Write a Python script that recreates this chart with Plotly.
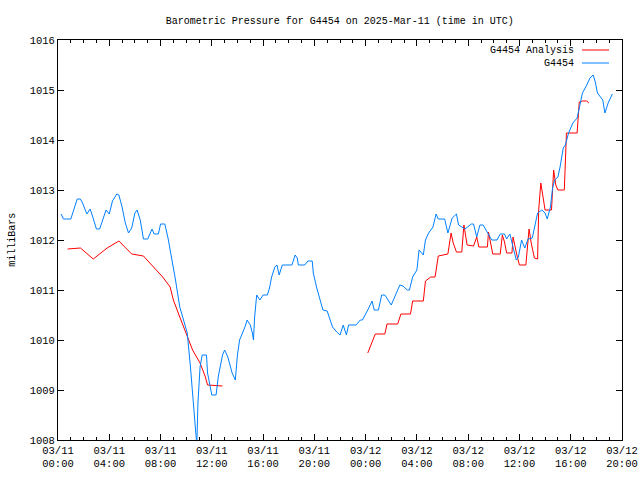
import datetime as dt
import plotly.graph_objects as go

BASE = dt.datetime(2025, 3, 11, 0, 0)

# G4454 observations: minutes after 2025-03-11 00:00 UTC, pressure in mbar
blue_min = [15, 25, 60, 90, 105, 115, 135, 150, 160, 180, 195, 225, 240, 255, 275, 285, 300, 315, 330, 345,
            360, 370, 385, 400, 420, 440, 450, 470, 480, 500, 515, 535, 550, 570, 605, 620, 630, 645, 650, 655,
            665, 675, 695, 700, 720, 740, 750, 770, 780, 795, 815, 830, 840, 850, 875, 885, 900, 910, 915, 920,
            930, 945, 960, 980, 990, 1000, 1015, 1025, 1035, 1050, 1095, 1110, 1120, 1125, 1155, 1170, 1190, 1195, 1210, 1225,
            1240, 1260, 1275, 1285, 1305, 1320, 1335, 1350, 1360, 1395, 1415, 1425, 1450, 1470, 1480, 1500, 1515, 1530, 1560, 1575,
            1600, 1615, 1635, 1645, 1660, 1680, 1690, 1710, 1720, 1735, 1755, 1770, 1780, 1810, 1825, 1845, 1865, 1875, 1905, 1935,
            1945, 1960, 1975, 1990, 2010, 2030, 2055, 2070, 2090, 2100, 2115, 2130, 2145, 2155, 2170, 2185, 2200, 2220, 2230, 2245,
            2265, 2280, 2290, 2305, 2315, 2325, 2340, 2350, 2365, 2375, 2390, 2410, 2430, 2445, 2455, 2475, 2490, 2505, 2515, 2525,
            2545, 2550, 2560, 2575, 2595]
blue_mbar = [1012.52, 1012.42, 1012.42, 1012.82, 1012.82, 1012.74, 1012.52, 1012.62, 1012.50, 1012.22, 1012.22, 1012.60, 1012.52, 1012.78, 1012.92, 1012.90, 1012.66, 1012.34, 1012.14, 1012.24,
             1012.54, 1012.60, 1012.40, 1012.02, 1012.02, 1012.22, 1012.12, 1012.12, 1012.32, 1012.32, 1012.04, 1011.60, 1011.20, 1010.66, 1010.14, 1009.46, 1008.86, 1008.14, 1007.90, 1008.74,
             1009.46, 1009.70, 1009.70, 1009.34, 1008.90, 1008.90, 1009.26, 1009.70, 1009.80, 1009.66, 1009.34, 1009.20, 1009.70, 1010.00, 1010.26, 1010.40, 1010.30, 1010.14, 1010.00, 1010.44,
             1010.90, 1010.80, 1010.90, 1010.90, 1011.04, 1011.26, 1011.46, 1011.50, 1011.30, 1011.50, 1011.50, 1011.70, 1011.64, 1011.50, 1011.50, 1011.58, 1011.58, 1011.34, 1011.06, 1010.80,
             1010.60, 1010.58, 1010.40, 1010.26, 1010.16, 1010.10, 1010.30, 1010.10, 1010.30, 1010.30, 1010.40, 1010.40, 1010.60, 1010.78, 1010.60, 1010.60, 1010.90, 1010.90, 1010.70, 1010.86,
             1011.10, 1011.08, 1011.00, 1011.00, 1011.26, 1011.40, 1011.80, 1011.70, 1012.00, 1012.14, 1012.26, 1012.52, 1012.42, 1012.42, 1012.14, 1012.44, 1012.52, 1012.30, 1012.22, 1012.32,
             1012.32, 1012.06, 1012.30, 1012.30, 1012.14, 1012.00, 1012.00, 1012.12, 1012.12, 1012.02, 1012.12, 1011.84, 1011.60, 1011.66, 1012.00, 1011.84, 1012.02, 1012.04, 1012.24, 1012.54,
             1012.60, 1012.54, 1012.42, 1012.66, 1013.04, 1013.20, 1013.26, 1013.46, 1013.84, 1013.90, 1014.14, 1014.34, 1014.44, 1014.74, 1014.94, 1015.10, 1015.24, 1015.30, 1015.16, 1014.94,
             1014.82, 1014.80, 1014.54, 1014.74, 1014.92]

# G4454 Analysis: first segment (03/11 morning)
red1_min = [45, 105, 165, 230, 285, 345, 400, 445, 490, 525, 540, 570, 605, 630, 665, 690, 700, 745, 770]
red1_mbar = [1011.82, 1011.84, 1011.62, 1011.84, 1011.98, 1011.72, 1011.68, 1011.46, 1011.26, 1011.06, 1010.80, 1010.46,
             1010.06, 1009.80, 1009.54, 1009.26, 1009.10, 1009.08, 1009.08]

# G4454 Analysis: second segment (03/12)
red2_min = [1450, 1485, 1530, 1540, 1590, 1605, 1650, 1660, 1710, 1720, 1745, 1765, 1780, 1825, 1840, 1850, 1865, 1890, 1900, 1915,
            1945, 1960, 1970, 2010, 2015, 2030, 2035, 2070, 2080, 2090, 2100, 2125, 2130, 2150, 2160, 2190, 2195, 2205, 2215, 2230,
            2245, 2250, 2260, 2270, 2280, 2310, 2315, 2320, 2330, 2340, 2365, 2370, 2380, 2430, 2440, 2455, 2475, 2485]
red2_mbar = [1009.74, 1010.12, 1010.12, 1010.32, 1010.32, 1010.52, 1010.52, 1010.78, 1010.78, 1011.18, 1011.26, 1011.26, 1011.68, 1011.72, 1012.14, 1011.94, 1011.76, 1011.76, 1012.30, 1011.90,
             1011.88, 1012.06, 1011.86, 1011.86, 1012.16, 1011.86, 1011.72, 1011.72, 1012.10, 1011.96, 1011.74, 1011.74, 1012.06, 1011.66, 1011.50, 1011.50, 1011.80, 1012.22, 1011.94, 1011.64,
             1011.62, 1012.60, 1013.14, 1012.86, 1012.60, 1012.60, 1013.00, 1013.40, 1013.10, 1013.00, 1013.00, 1013.00, 1014.14, 1014.14, 1014.76, 1014.78, 1014.78, 1014.74]

tick_hours = [0, 4, 8, 12, 16, 20, 24, 28, 32, 36, 40, 44]
tick_labels = ["03/11<br>00:00", "03/11<br>04:00", "03/11<br>08:00", "03/11<br>12:00", "03/11<br>16:00", "03/11<br>20:00",
               "03/12<br>00:00", "03/12<br>04:00", "03/12<br>08:00", "03/12<br>12:00", "03/12<br>16:00", "03/12<br>20:00"]


def to_time(mins):
    return [BASE + dt.timedelta(minutes=m) for m in mins]


red_x = to_time(red1_min) + [None] + to_time(red2_min)
red_y = red1_mbar + [None] + red2_mbar

FONT = "Liberation Mono, DejaVu Sans Mono, monospace"
RED = "#ff0000"
BLUE = "#0080ff"

fig = go.Figure()
fig.add_trace(go.Scatter(x=red_x, y=red_y, mode="lines", name="G4454 Analysis",
                         line=dict(color=RED, width=1), connectgaps=False, showlegend=False))
fig.add_trace(go.Scatter(x=to_time(blue_min), y=blue_mbar, mode="lines", name="G4454",
                         line=dict(color=BLUE, width=1), showlegend=False))

fig.update_layout(
    width=640, height=480,
    margin=dict(l=58, r=18, t=40, b=40, autoexpand=False),
    paper_bgcolor="white", plot_bgcolor="white",
    showlegend=False,
    font=dict(family=FONT, size=10, color="black"),
    title=dict(text="Barometric Pressure for G4454 on 2025-Mar-11 (time in UTC)",
               x=0.531, xanchor="center", y=0.958, yanchor="middle", automargin=False,
               font=dict(family=FONT, size=10, color="black")),
)

fig.update_xaxes(
    range=[BASE, BASE + dt.timedelta(hours=44)],
    tickvals=[BASE + dt.timedelta(hours=h) for h in tick_hours],
    ticktext=tick_labels,
    ticks="inside", ticklen=6, tickcolor="black", tickwidth=1,
    minor=dict(dtick=3600000, ticks="inside", ticklen=3, tickcolor="black", tickwidth=1, showgrid=False),
    showline=True, linecolor="black", linewidth=1, mirror="ticks",
    showgrid=False, zeroline=False, automargin=False, ticklabeloverflow="allow",
    tickfont=dict(family=FONT, size=10.5, color="black"),
)
fig.update_yaxes(
    range=[1008, 1016], dtick=1, tick0=1008,
    ticks="inside", ticklen=6, tickcolor="black", tickwidth=1,
    showline=True, linecolor="black", linewidth=1, mirror="ticks",
    showgrid=False, zeroline=False, automargin=False,
    tickfont=dict(family=FONT, size=10.5, color="black"),
)

# y-axis label
fig.add_annotation(text="milliBars", xref="paper", yref="paper", x=-0.082, y=0.5,
                   xanchor="center", yanchor="middle", textangle=-90, showarrow=False,
                   font=dict(family=FONT, size=10, color="black"))

# legend (text left of sample line, as in the reference)
legend_items = [("G4454 Analysis", RED, 0.975), ("G4454", BLUE, 0.9425)]
for label, color, ly in legend_items:
    fig.add_annotation(text=label, xref="paper", yref="paper", x=0.918, y=ly,
                       xanchor="right", yanchor="middle", showarrow=False,
                       font=dict(family=FONT, size=10, color="black"))
    fig.add_shape(type="line", xref="paper", yref="paper", x0=0.929, x1=0.977, y0=ly, y1=ly,
                  line=dict(color=color, width=1))

fig.write_html("out.html",
               config={"displayModeBar": False},
               post_script="document.body.style.margin='0';document.body.style.overflow='hidden';")
